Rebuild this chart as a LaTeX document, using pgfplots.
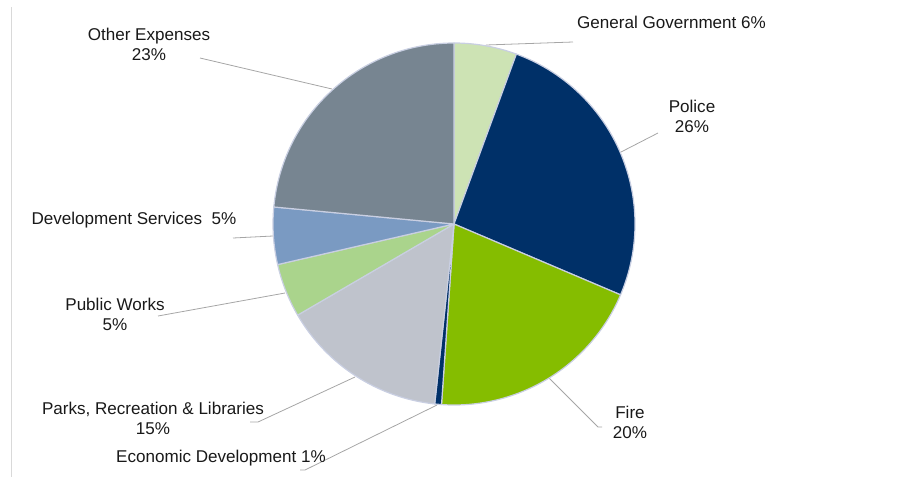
\documentclass[border=0pt]{standalone}
\usepackage{pgfplots}
\pgfplotsset{compat=1.18}
\usepackage{fontspec}
\setmainfont{Liberation Sans}

\definecolor{gengov}{HTML}{CDE3B4}
\definecolor{police}{HTML}{003068}
\definecolor{fire}{HTML}{85BD00}
\definecolor{econ}{HTML}{003068}
\definecolor{parks}{HTML}{BFC3CC}
\definecolor{pubworks}{HTML}{AAD48C}
\definecolor{devserv}{HTML}{7A9AC2}
\definecolor{other}{HTML}{778591}
\definecolor{edge}{HTML}{C9CFE2}
\definecolor{leadc}{HTML}{A6A6A6}

\tikzset{
  lbl/.style={font=\fontsize{12.8}{15}\selectfont, align=center, inner sep=0pt, text=black!90},
  leader/.style={draw=leadc, line width=0.6pt}
}

\begin{document}
\begin{tikzpicture}
\begin{axis}[width=687.75pt, height=357.75pt, scale only axis,
  hide axis, clip=false,
  xmin=0, xmax=917, ymin=0, ymax=477, y dir=reverse]
  \path (axis cs:0,0) rectangle (axis cs:917,477);
  \coordinate (c) at (axis cs:454,224);

  % frame line on the left
  \draw[draw=black!15, line width=0.75pt] (axis cs:11.5,7) -- (axis cs:11.5,477);

  % leader lines
  \draw[leader] (axis cs:573,42) -- (axis cs:486,45);
  \draw[leader] (axis cs:658,133) -- (axis cs:621,152);
  \draw[leader] (axis cs:549,378) -- (axis cs:598,427) -- (axis cs:602,427);
  \draw[leader] (axis cs:300,470) -- (axis cs:305,470) -- (axis cs:437,405);
  \draw[leader] (axis cs:250,422) -- (axis cs:258,422) -- (axis cs:355,377);
  \draw[leader] (axis cs:158,316) -- (axis cs:285,293);
  \draw[leader] (axis cs:233,238) -- (axis cs:273,236);
  \draw[leader] (axis cs:200,58) -- (axis cs:332,89);

  % labels
  \node[lbl] at (axis cs:671.5,22) {General Government 6\%};
  \node[lbl] at (axis cs:692,116) {Police\\26\%};
  \node[lbl] at (axis cs:630,422) {Fire\\20\%};
  \node[lbl] at (axis cs:221,458) {Economic Development 1\%};
  \node[lbl] at (axis cs:153,418) {Parks, Recreation \& Libraries\\15\%};
  \node[lbl] at (axis cs:115,314) {Public Works\\5\%};
  \node[lbl] at (axis cs:134,220) {Development Services\ \ 5\%};
  \node[lbl] at (axis cs:149,44) {Other Expenses\\23\%};
\end{axis}

% pie slices, clockwise from 12 o'clock (shares in percent)
\def\startang{90}
\foreach \v/\col in {5.6/gengov, 25.8/police, 19.7/fire, 0.6/econ,
                     14.9/parks, 4.8/pubworks, 5.1/devserv, 23.5/other} {
  \pgfmathsetmacro\endang{\startang-3.6*\v}
  \filldraw[fill=\col, draw=edge, line width=0.9pt, line join=round]
    (c) -- ++(\startang:135.75pt) arc[start angle=\startang, end angle=\endang, radius=135.75pt] -- cycle;
  \xdef\startang{\endang}
}
\end{tikzpicture}
\end{document}
